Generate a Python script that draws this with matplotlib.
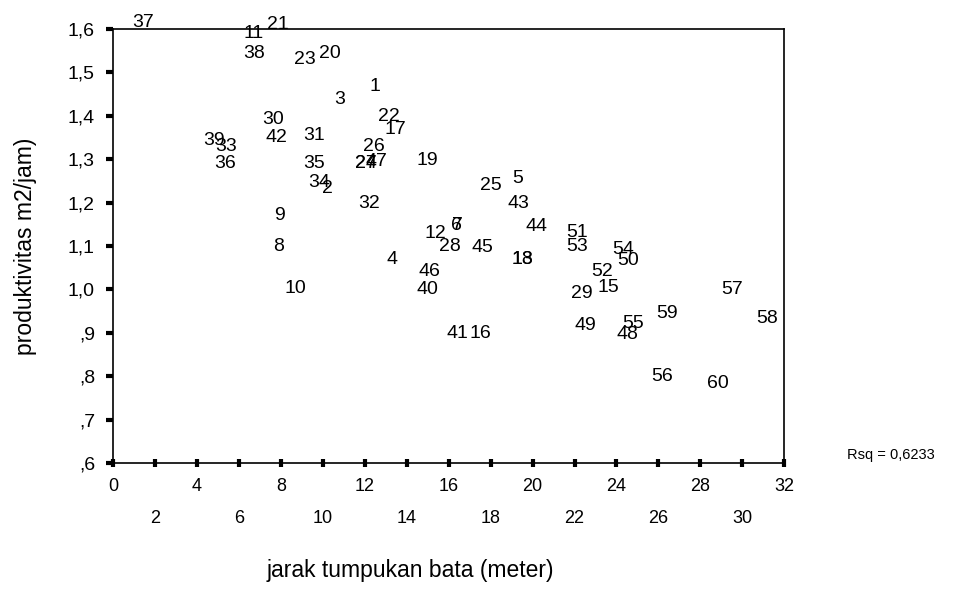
import matplotlib
matplotlib.use("Agg")
import matplotlib.pyplot as plt

plt.rcParams["font.family"] = ["Liberation Sans", "DejaVu Sans"]

# case numbers with their (jarak, produktivitas) values
case_ids = [37, 11, 21, 38, 23, 20, 3, 1, 22, 17,
            30, 42, 31, 39, 33, 36, 35, 26, 24, 27,
            47, 34, 2, 19, 32, 9, 8, 10, 4, 12,
            6, 7, 28, 45, 46, 40, 41, 16, 25, 5,
            43, 44, 18, 13, 51, 53, 54, 50, 52, 15,
            29, 49, 55, 48, 59, 56, 60, 57, 58]
jarak = [1.43, 6.71, 7.86, 6.71, 9.14, 10.33, 10.81, 12.48, 13.14, 13.48,
         7.62, 7.81, 9.57, 4.81, 5.38, 5.33, 9.57, 12.43, 12.05, 12.05,
         12.57, 9.81, 10.24, 15.0, 12.19, 7.95, 7.90, 8.71, 13.29, 15.38,
         16.38, 16.43, 16.05, 17.62, 15.10, 15.0, 16.43, 17.52, 18.0, 19.29,
         19.33, 20.19, 19.52, 19.52, 22.10, 22.10, 24.33, 24.57, 23.33, 23.62,
         22.33, 22.52, 24.81, 24.52, 26.43, 26.19, 28.81, 29.52, 31.19]
produktivitas = [1.614, 1.589, 1.611, 1.543, 1.529, 1.543, 1.437, 1.467, 1.398, 1.368,
                 1.391, 1.349, 1.354, 1.343, 1.329, 1.290, 1.290, 1.329, 1.290, 1.290,
                 1.294, 1.246, 1.232, 1.297, 1.198, 1.170, 1.099, 1.002, 1.069, 1.129,
                 1.147, 1.147, 1.099, 1.097, 1.041, 1.000, 0.899, 0.899, 1.239, 1.255,
                 1.198, 1.145, 1.069, 1.069, 1.131, 1.099, 1.092, 1.067, 1.041, 1.005,
                 0.991, 0.917, 0.922, 0.897, 0.945, 0.800, 0.782, 1.000, 0.933]

y_ticks = [0.6, 0.7, 0.8, 0.9, 1.0, 1.1, 1.2, 1.3, 1.4, 1.5, 1.6]
y_labels = [",6", ",7", ",8", ",9", "1,0", "1,1", "1,2", "1,3", "1,4", "1,5", "1,6"]
x_major = [0, 4, 8, 12, 16, 20, 24, 28, 32]
x_minor = [2, 6, 10, 14, 18, 22, 26, 30]
rsq_text = "Rsq = 0,6233"

fig = plt.figure(figsize=(9.72, 5.97), dpi=100)
ax = fig.add_axes([0.1163, 0.2245, 0.6906, 0.727])

for n, x, y in zip(case_ids, jarak, produktivitas):
    ax.text(x, y, str(n), ha="center", va="center", fontsize=14,
            color="black", clip_on=False)

ax.set_xlim(0, 32)
ax.set_ylim(0.6, 1.6)

ax.set_yticks(y_ticks)
ax.set_yticklabels(y_labels, fontsize=14)
ax.tick_params(axis="y", direction="out", length=5, width=3, pad=8)

ax.set_xticks(x_major)
ax.set_xticklabels([str(v) for v in x_major], fontsize=13)
ax.set_xticks(x_minor, minor=True)
ax.set_xticklabels([str(v) for v in x_minor], minor=True, fontsize=13)
ax.tick_params(axis="x", which="major", direction="inout", length=6, width=3, pad=8)
ax.tick_params(axis="x", which="minor", direction="inout", length=6, width=3, pad=31)

for side in ax.spines.values():
    side.set_linewidth(1.2)

ax.set_ylabel("produktivitas m2/jam)", fontsize=16.5)
ax.yaxis.set_label_coords(-0.113, 0.5)
fig.text(410 / 972, 1 - 570 / 597, "jarak tumpukan bata (meter)", ha="center",
         va="center", fontsize=16.5)
fig.text(847 / 972, 1 - 455 / 597, rsq_text, ha="left", va="center", fontsize=10.5)

fig.savefig("out.png", dpi=100)
